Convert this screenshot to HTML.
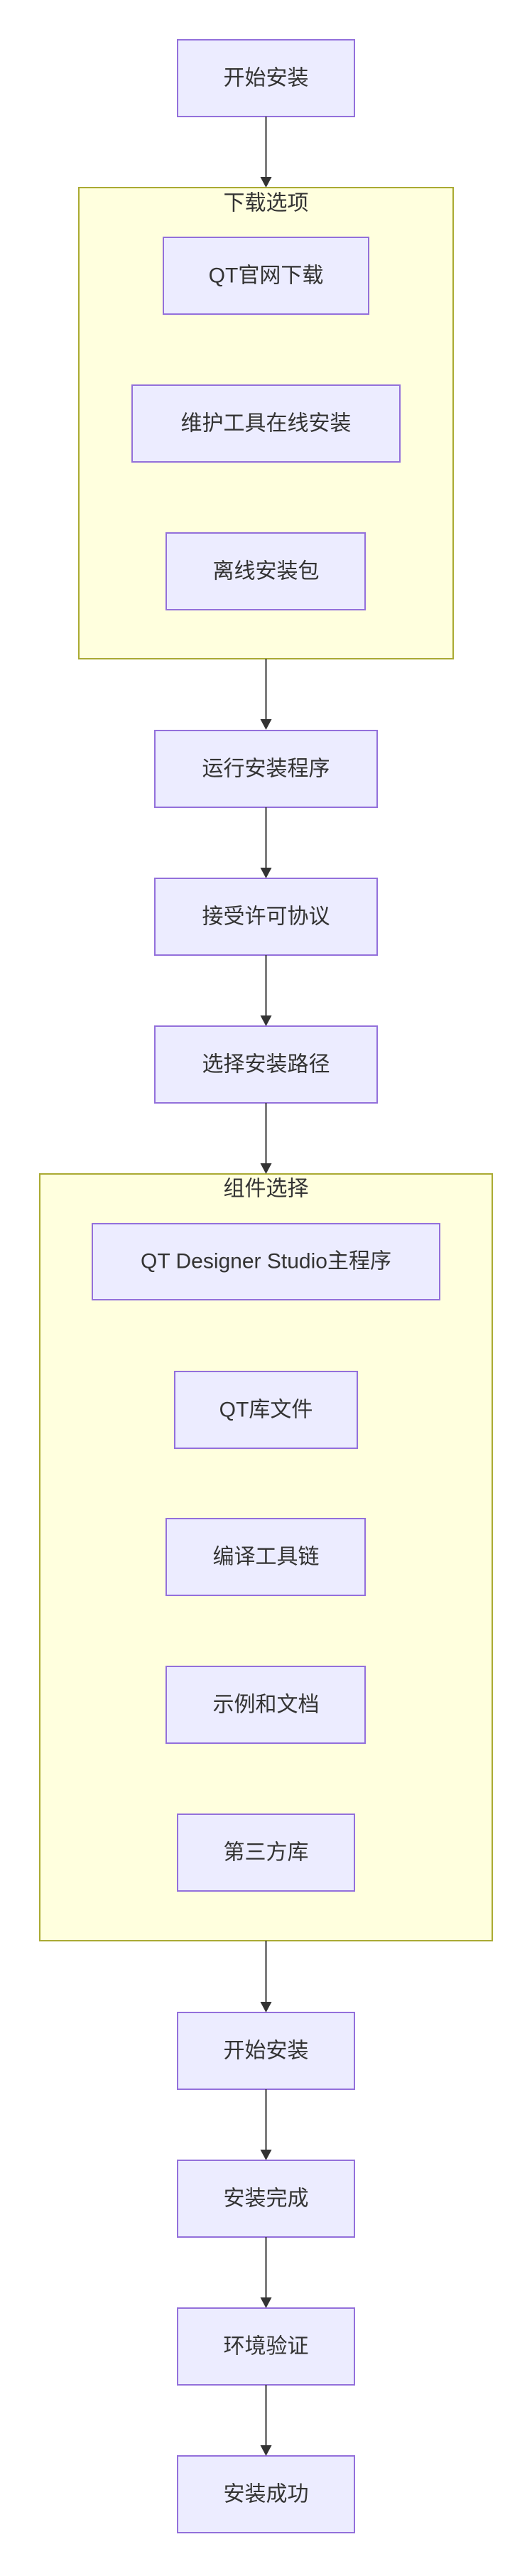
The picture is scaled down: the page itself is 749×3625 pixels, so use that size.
<!DOCTYPE html>
<html><head><meta charset="utf-8"><style>
html,body{margin:0;padding:0;background:#fff;}
svg text{font-family:"Liberation Sans","Noto Sans CJK SC",sans-serif;fill:#333;}
</style></head><body>
<svg width="749" height="3620" viewBox="0 0 749 3620" xmlns="http://www.w3.org/2000/svg">
<defs><marker id="a" viewBox="0 0 10 10" refX="9" refY="5" markerWidth="8" markerHeight="8" markerUnits="userSpaceOnUse" orient="auto"></marker></defs>
<g fill="#ffffde" stroke="#aaaa33" stroke-width="2">
<rect x="111" y="264" width="527" height="663"/>
<rect x="56" y="1652" width="637" height="1079"/>
</g>
<g fill="#ececff" stroke="#9370db" stroke-width="2">
<rect x="250" y="56" width="249" height="108"/>
<rect x="230" y="334" width="289" height="108"/>
<rect x="186" y="542" width="377" height="108"/>
<rect x="234" y="750" width="280" height="108"/>
<rect x="218" y="1028" width="313" height="108"/>
<rect x="218" y="1236" width="313" height="108"/>
<rect x="218" y="1444" width="313" height="108"/>
<rect x="130" y="1722" width="489" height="107"/>
<rect x="246" y="1930" width="257" height="108"/>
<rect x="234" y="2137" width="280" height="108"/>
<rect x="234" y="2345" width="280" height="108"/>
<rect x="250" y="2553" width="249" height="108"/>
<rect x="250" y="2832" width="249" height="108"/>
<rect x="250" y="3040" width="249" height="108"/>
<rect x="250" y="3248" width="249" height="108"/>
<rect x="250" y="3456" width="249" height="108"/>
</g>
<g stroke="#333" stroke-width="2">
<line x1="374.5" y1="164" x2="374.5" y2="252"/>
<line x1="374.5" y1="927" x2="374.5" y2="1015"/>
<line x1="374.5" y1="1136" x2="374.5" y2="1224"/>
<line x1="374.5" y1="1344" x2="374.5" y2="1432"/>
<line x1="374.5" y1="1552" x2="374.5" y2="1640"/>
<line x1="374.5" y1="2731" x2="374.5" y2="2820"/>
<line x1="374.5" y1="2940" x2="374.5" y2="3028"/>
<line x1="374.5" y1="3148" x2="374.5" y2="3236"/>
<line x1="374.5" y1="3356" x2="374.5" y2="3444"/>
</g>
<g fill="#333">
<polygon points="366.5,249 382.5,249 374.5,264"/>
<polygon points="366.5,1012 382.5,1012 374.5,1027"/>
<polygon points="366.5,1221 382.5,1221 374.5,1236"/>
<polygon points="366.5,1429 382.5,1429 374.5,1444"/>
<polygon points="366.5,1637 382.5,1637 374.5,1652"/>
<polygon points="366.5,2817 382.5,2817 374.5,2832"/>
<polygon points="366.5,3025 382.5,3025 374.5,3040"/>
<polygon points="366.5,3233 382.5,3233 374.5,3248"/>
<polygon points="366.5,3441 382.5,3441 374.5,3456"/>
</g>
<g font-size="30" text-anchor="middle" dominant-baseline="central">
<text x="374.5" y="286">下载选项</text>
<text x="374.5" y="1673">组件选择</text>
<text x="374.5" y="110">开始安装</text>
<text x="374.5" y="388">QT官网下载</text>
<text x="374.5" y="596">维护工具在线安装</text>
<text x="374.5" y="804">离线安装包</text>
<text x="374.5" y="1082">运行安装程序</text>
<text x="374.5" y="1290">接受许可协议</text>
<text x="374.5" y="1498">选择安装路径</text>
<text x="374.5" y="1775">QT Designer Studio主程序</text>
<text x="374.5" y="1984">QT库文件</text>
<text x="374.5" y="2191">编译工具链</text>
<text x="374.5" y="2399">示例和文档</text>
<text x="374.5" y="2607">第三方库</text>
<text x="374.5" y="2886">开始安装</text>
<text x="374.5" y="3094">安装完成</text>
<text x="374.5" y="3302">环境验证</text>
<text x="374.5" y="3510">安装成功</text>
</g>
</svg>
</body></html>
